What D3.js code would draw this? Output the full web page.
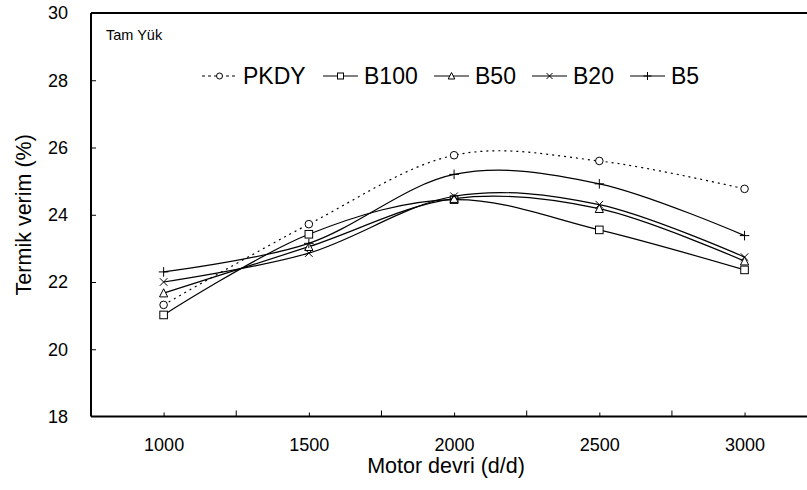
<!DOCTYPE html>
<html>
<head>
<meta charset="utf-8">
<script src="https://cdn.jsdelivr.net/npm/d3@7"></script>
<style>
  body { margin: 0; background: #fff; }
  svg { font-family: "Liberation Sans", Arial, sans-serif; }
  .line { fill: none; stroke: #000; stroke-width: 1.2px; }
  .dotted.line { stroke-dasharray: 2 4; }
  .marker { fill: #fff; stroke: #000; stroke-width: 1px; }
</style>
</head>
<body>
<svg id="chart" width="807" height="490"></svg>
<script>
// chart values
const rpm = [1000, 1500, 2000, 2500, 3000];
const seriesNames = ["PKDY", "B100", "B50", "B20", "B5"];
const pkdy = [21.32, 23.72, 25.77, 25.6, 24.77];
const b100 = [21.02, 23.42, 24.45, 23.55, 22.36];
const b50 = [21.67, 23.05, 24.48, 24.18, 22.62];
const b20 = [22.0, 22.86, 24.55, 24.3, 22.74];
const b5 = [22.3, 23.15, 25.2, 24.92, 23.38];
const yTicks = [18, 20, 22, 24, 26, 28, 30];
const xMinorTicks = [1250, 1750, 2250, 2750];

const margin = {top: 13, right: 0, bottom: 73.5, left: 91};
const width = 807 - margin.left - margin.right;
const height = 490 - margin.top - margin.bottom;

const svg = d3.select("#chart");
const chart = svg.append("g").attr("transform", "translate(" + margin.left + "," + margin.top + ")");

const xScale = d3.scaleLinear().domain([750, 3215]).range([0, width]);
const yScale = d3.scaleLinear().domain([18, 30]).range([height, 0]);

// frame: top border
chart.append("line")
    .attr("x1", 0).attr("x2", width).attr("y1", 0).attr("y2", 0)
    .attr("stroke", "#000").attr("stroke-width", 2);

// y axis, ticks inside
const yAxis = chart.append("g").attr("class", "y axis")
    .call(d3.axisLeft(yScale).tickValues(yTicks).tickSize(-5).tickPadding(23).tickFormat(d3.format("d")));
yAxis.select(".domain").attr("stroke-width", 2).attr("d", "M0," + height + "V0");
yAxis.selectAll(".tick line").attr("stroke-width", 1);
yAxis.selectAll(".tick").filter(d => d === 18 || d === 30).select("line").remove();
yAxis.selectAll("text").attr("font-size", 18).attr("font-family", "Liberation Sans, Arial, sans-serif");

// x axis, ticks inside
const xAxis = chart.append("g").attr("class", "x axis")
    .attr("transform", "translate(0," + height + ")")
    .call(d3.axisBottom(xScale).tickValues(rpm).tickSize(-4).tickPadding(22).tickFormat(d3.format("d")));
xAxis.select(".domain").attr("stroke-width", 2).attr("d", "M0,0H" + width);
xAxis.selectAll("text").attr("font-size", 18).attr("font-family", "Liberation Sans, Arial, sans-serif");
xAxis.selectAll("line.minor").data(xMinorTicks).enter().append("line")
    .attr("class", "minor")
    .attr("x1", d => xScale(d)).attr("x2", d => xScale(d))
    .attr("y1", 0).attr("y2", -6)
    .attr("stroke", "#000");

// axis titles
svg.append("text")
    .attr("x", 446).attr("y", 473)
    .attr("text-anchor", "middle").attr("font-size", 21.5)
    .text("Motor devri (d/d)");
svg.append("text")
    .attr("transform", "translate(31," + (margin.top + height / 2) + ") rotate(-90)")
    .attr("text-anchor", "middle").attr("font-size", 21.5)
    .text("Termik verim (%)");

svg.append("text")
    .attr("x", 106).attr("y", 40).attr("font-size", 14.5)
    .text("Tam Yük");

// markers, s = half size
function drawMarker(g, type, s) {
    if (type === "circle") {
        g.append("circle").attr("class", "marker").attr("r", s);
    } else if (type === "square") {
        g.append("rect").attr("class", "marker").attr("x", -s).attr("y", -s).attr("width", 2 * s).attr("height", 2 * s);
    } else if (type === "triangle") {
        g.append("path").attr("class", "marker").attr("d", "M0," + (-s - 0.5) + "L" + (s + 0.3) + "," + s + "L" + (-s - 0.3) + "," + s + "Z");
    } else if (type === "x") {
        g.append("path").attr("class", "marker").attr("d", "M" + -s + "," + -s + "L" + s + "," + s + "M" + -s + "," + s + "L" + s + "," + -s);
    } else if (type === "plus") {
        g.append("path").attr("class", "marker").attr("d", "M" + (-s - 1) + ",0H" + (s + 1) + "M0," + (-s - 1) + "V" + (s + 1));
    }
}

const series = [
    {name: seriesNames[0], values: pkdy, marker: "circle", dotted: true},
    {name: seriesNames[1], values: b100, marker: "square"},
    {name: seriesNames[2], values: b50, marker: "triangle"},
    {name: seriesNames[3], values: b20, marker: "x"},
    {name: seriesNames[4], values: b5, marker: "plus"}
];

const d3Line = d3.line()
    .x(d => xScale(d.x))
    .y(d => yScale(d.y))
    .curve(d3.curveCardinal.tension(0));

series.forEach(s => {
    const vals = rpm.map((r, i) => ({x: r, y: s.values[i]}));
    chart.append("path")
        .datum(vals)
        .attr("class", s.dotted ? "dotted line" : "line")
        .attr("d", d3Line);
    vals.forEach(v => {
        const g = chart.append("g").attr("transform", "translate(" + xScale(v.x) + "," + yScale(v.y) + ")");
        drawMarker(g, s.marker, 3.8);
    });
});

// legend
const legendX = [202, 323, 434, 532, 630];
const legendY = 76;
series.forEach((s, i) => {
    const g = svg.append("g").attr("transform", "translate(" + legendX[i] + "," + legendY + ")");
    g.append("line").attr("x1", 0).attr("x2", 35).attr("y1", 0).attr("y2", 0)
        .attr("stroke", "#000").attr("stroke-width", 1)
        .attr("stroke-dasharray", s.dotted ? "3 3" : null);
    const m = g.append("g").attr("transform", "translate(17.5,0)");
    drawMarker(m, s.marker, 3);
    g.append("text").attr("x", 41).attr("y", 8).attr("font-size", 23).text(s.name);
});
</script>
</body>
</html>
